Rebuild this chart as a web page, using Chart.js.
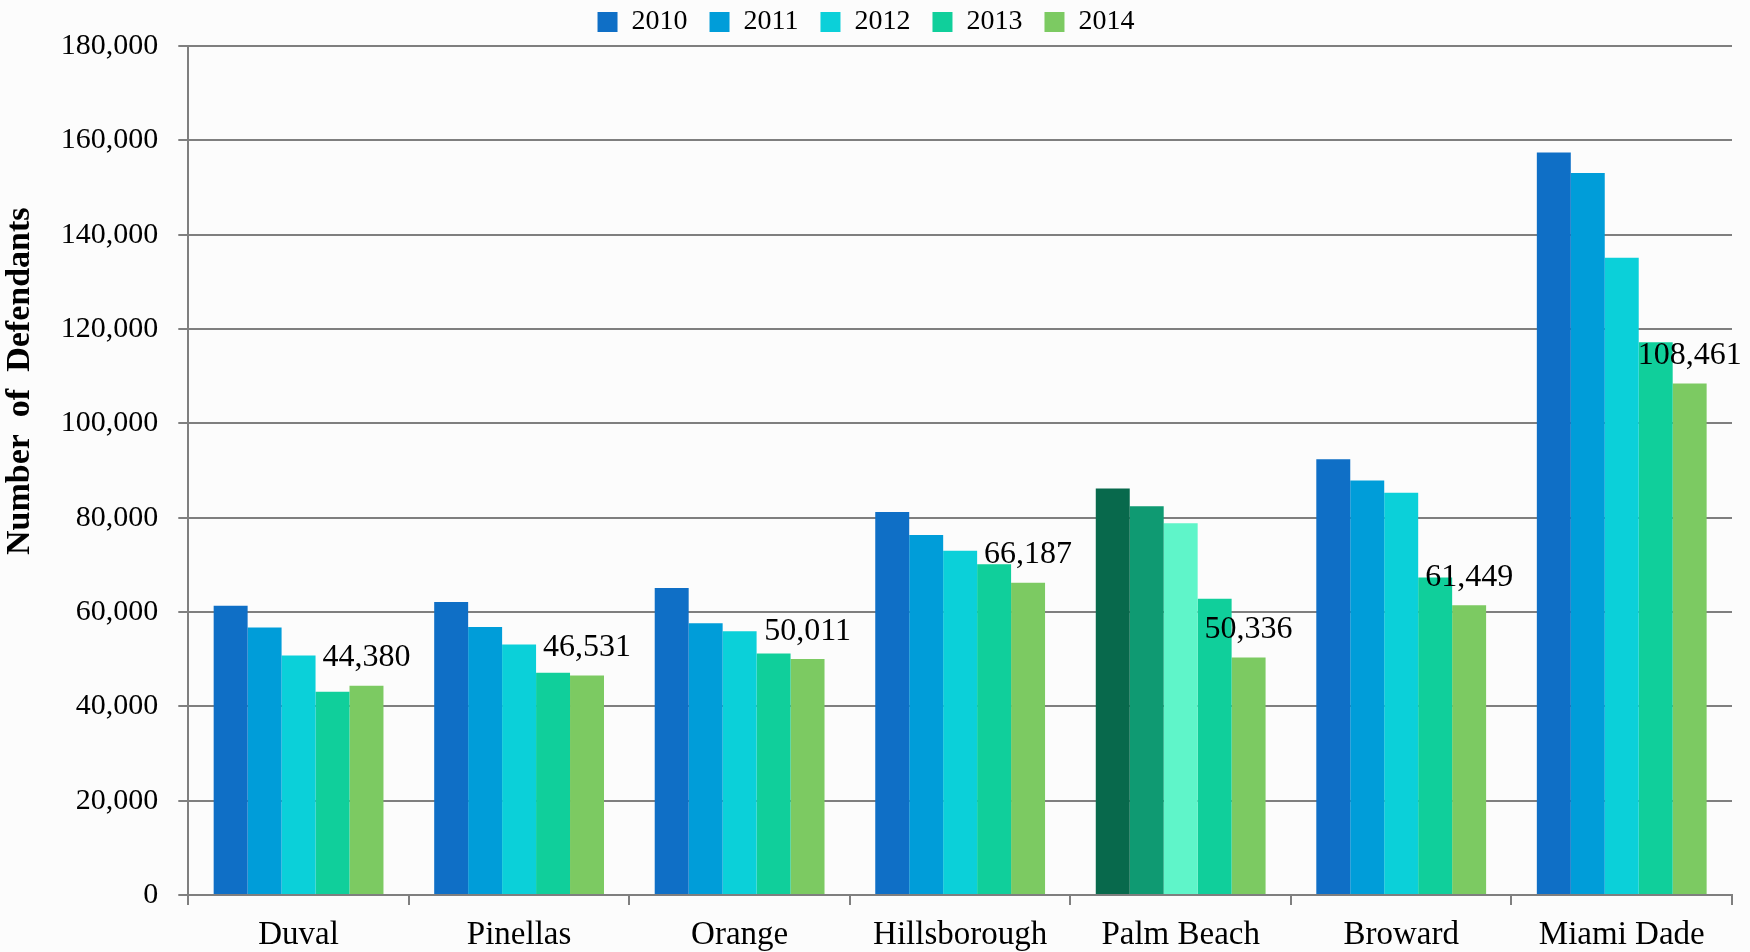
<!DOCTYPE html>
<html>
<head>
<meta charset="utf-8">
<script src="https://cdn.jsdelivr.net/npm/chart.js@4/dist/chart.umd.min.js"></script>
<style>
  html, body { margin: 0; padding: 0; background: #fcfcfc; }
  #wrap { width: 1750px; height: 952px; }
</style>
</head>
<body>
<div id="wrap"><canvas id="defendants"></canvas></div>
<script>
const counties = ['Duval', 'Pinellas', 'Orange', 'Hillsborough', 'Palm Beach', 'Broward', 'Miami Dade'];
const years = ['2010', '2011', '2012', '2013', '2014'];

const v2010 = [61300, 62100, 65100, 81200, 86200, 92400, 157400];
const v2011 = [56700, 56800, 57600, 76300, 82400, 87900, 153100];
const v2012 = [50800, 53100, 55900, 73000, 78800, 85300, 135100];
const v2013 = [43100, 47100, 51200, 70100, 62800, 67300, 117200];
const v2014 = [44380, 46531, 50011, 66187, 50336, 61449, 108461];

const yTicks = [0, 20000, 40000, 60000, 80000, 100000, 120000, 140000, 160000, 180000];

const colors = ['#0f6fc6', '#009dd9', '#0bd0d9', '#10cf9b', '#7cca62'];
// Palm Beach is drawn in its own greens
const palmColors = ['#08694c', '#0f9a72', '#5ff5c9', '#10cf9b', '#7cca62'];
const palmIndex = 4;

const font = "'Liberation Serif', 'DejaVu Serif', serif";

function barColors(i) {
	return counties.map((c, j) => j === palmIndex ? palmColors[i] : colors[i]);
}

const series = [v2010, v2011, v2012, v2013, v2014];

const data_def = {
	labels: counties,
	datasets: series.map((vals, i) => ({
		label: years[i],
		data: vals,
		backgroundColor: barColors(i),
		borderWidth: 0,
		categoryPercentage: 0.77,
		barPercentage: 1.0,
	}))
};

// value labels over the 2014 bars, and the county names under the axis
// (the names run off the bottom edge like in the original, so they are drawn here)
const extraText = {
	id: 'extraText',
	afterDatasetsDraw(chart) {
		const ctx = chart.ctx;
		const meta = chart.getDatasetMeta(4);
		ctx.save();
		ctx.font = '32px ' + font;
		ctx.fillStyle = '#000000';
		ctx.textAlign = 'center';
		ctx.textBaseline = 'bottom';
		meta.data.forEach((bar, j) => {
			ctx.fillText(v2014[j].toLocaleString('en-US'), bar.x, bar.y - 12);
		});

		const xs = chart.scales.x;
		ctx.font = '33px ' + font;
		ctx.textBaseline = 'middle';
		counties.forEach((c, j) => {
			ctx.fillText(c, xs.getPixelForValue(j), xs.top + 40);
		});
		ctx.restore();
	}
};

const config_def = {
	type: 'bar',
	data: data_def,
	plugins: [extraText],
	options: {
		responsive: true,
		maintainAspectRatio: false,
		animation: false,
		layout: { padding: { left: 0, right: 18, top: 0, bottom: 47 } },
		plugins: {
			tooltip: { enabled: false },
			legend: {
				position: 'top',
				labels: {
					color: '#000000',
					font: { family: font, size: 28 },
					boxWidth: 20,
					boxHeight: 20,
					padding: 8,
					generateLabels(chart) {
						// trailing spaces widen the gap between items
						return years.map((y, i) => ({
							text: y + (i < years.length - 1 ? '  ' : ''),
							fillStyle: colors[i],
							strokeStyle: colors[i],
							lineWidth: 0,
							datasetIndex: i,
						}));
					}
				}
			},
		},
		scales: {
			x: {
				grid: {
					display: true,
					drawOnChartArea: false,
					drawTicks: true,
					tickLength: 10,
					color: '#7f7f7f',
					lineWidth: 2,
					offset: true,
				},
				border: { color: '#7f7f7f', width: 2 },
				ticks: { display: false }
			},
			y: {
				min: 0,
				max: 180000,
				afterBuildTicks(axis) {
					axis.ticks = yTicks.map(v => ({ value: v }));
				},
				grid: {
					color: '#7f7f7f',
					lineWidth: 2,
					drawTicks: true,
					tickLength: 10,
				},
				border: { color: '#7f7f7f', width: 2 },
				ticks: {
					color: '#000000',
					font: { family: font, size: 30 },
					padding: 20,
					callback: v => v.toLocaleString('en-US'),
				},
				title: {
					display: true,
					// leading spaces lift the title above the axis centre
					text: '                     Number  of  Defendants',
					color: '#000000',
					font: { family: font, size: 34, weight: 'bold' },
					padding: { top: 0, bottom: 0 },
				}
			}
		}
	},
};

const defendants = new Chart(
	document.getElementById('defendants'),
	config_def
);
</script>
</body>
</html>
